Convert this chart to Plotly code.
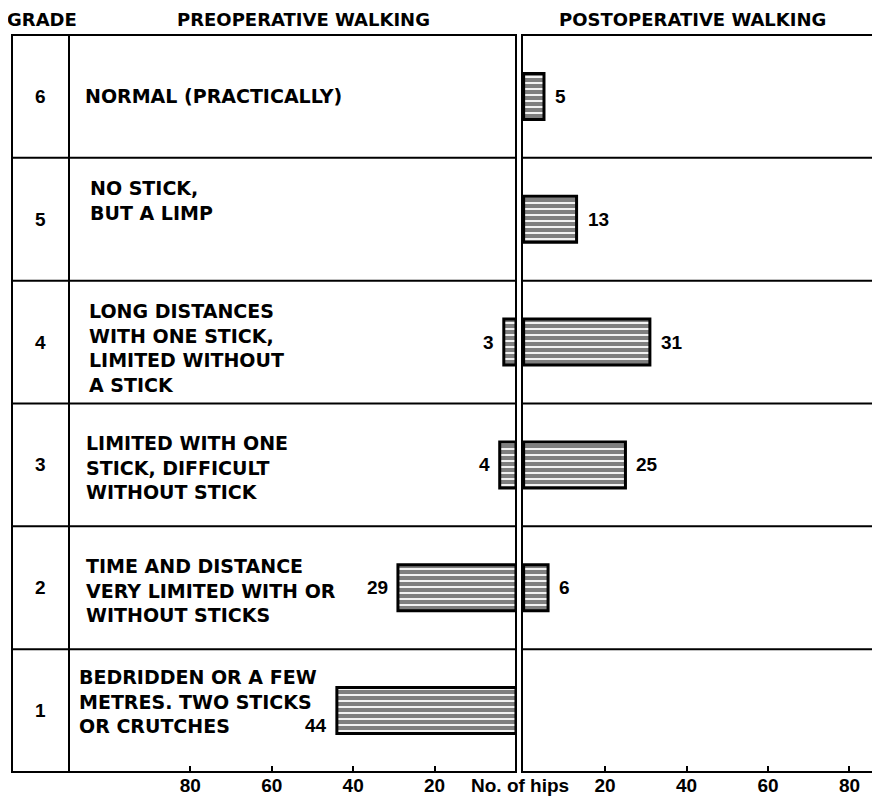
import plotly.graph_objects as go

# ---- data ----
grades = [1, 2, 3, 4, 5, 6]
preop_hips = [44, 29, 4, 3, None, None]
postop_hips = [None, 6, 25, 31, 13, 5]
descriptions = [
    "BEDRIDDEN OR A FEW<br>METRES. TWO STICKS<br>OR CRUTCHES",
    "TIME AND DISTANCE<br>VERY LIMITED WITH OR<br>WITHOUT STICKS",
    "LIMITED WITH ONE<br>STICK, DIFFICULT<br>WITHOUT STICK",
    "LONG DISTANCES<br>WITH ONE STICK,<br>LIMITED WITHOUT<br>A STICK",
    "NO STICK,<br>BUT A LIMP",
    "NORMAL (PRACTICALLY)",
]
tick_values = [20, 40, 60, 80]
header_grade = "GRADE"
header_pre = "PREOPERATIVE WALKING"
header_post = "POSTOPERATIVE WALKING"
axis_title = "No. of hips"

# ---- layout constants ----
OFF = 8  # page body margin
W, H = 880 - OFF, 803 - OFF
def px(x):
    return (x - OFF) / W
def py(y):
    return 1 - (y - OFF) / H

LBL_FONT = dict(family="DejaVu Sans", size=19, color="black", weight="bold")
HDR_FONT = dict(family="DejaVu Sans", size=18, color="black", weight="bold")
NUM_FONT = dict(family="Liberation Sans", size=19, color="black", weight="bold")
LINE = dict(color="black", width=2)

bar_style = dict(
    color="white",
    line=dict(color="black", width=3),
    pattern=dict(shape="-", fgcolor="black", bgcolor="white", size=6, solidity=0.7),
)

fig = go.Figure()
fig.add_trace(go.Bar(x=preop_hips, y=grades, orientation="h", xaxis="x", yaxis="y",
                     width=0.375, marker=bar_style, showlegend=False, hoverinfo="skip"))
fig.add_trace(go.Bar(x=postop_hips, y=grades, orientation="h", xaxis="x2", yaxis="y",
                     width=0.375, marker=bar_style, showlegend=False, hoverinfo="skip"))

shapes = []
# panel boxes
shapes.append(dict(type="rect", xref="x domain", yref="y domain", x0=0, x1=1, y0=0, y1=1, line=LINE))
shapes.append(dict(type="rect", xref="x2 domain", yref="y domain", x0=0, x1=0.998, y0=0, y1=1, line=LINE))
# grade column divider
shapes.append(dict(type="line", xref="paper", yref="y domain", x0=px(69), x1=px(69), y0=0, y1=1, line=LINE))
# row separators
for g in grades[:-1]:
    for xr in ("x domain", "x2 domain"):
        shapes.append(dict(type="line", xref=xr, yref="y", x0=0, x1=1, y0=g + 0.5, y1=g + 0.5, line=LINE))

annotations = []
text_dy = {1: 0.077, 2: -0.025, 3: -0.025, 4: -0.05, 5: 0.155, 6: 0.0}
text_x = {1: 77, 2: 84, 3: 84, 4: 87, 5: 88, 6: 83}
for g, d in zip(grades, descriptions):
    annotations.append(dict(xref="paper", yref="y", x=px(40), y=g, text=str(g), showarrow=False,
                            xanchor="center", yanchor="middle", font=NUM_FONT))
    annotations.append(dict(xref="paper", yref="y", x=px(text_x[g]), y=g + text_dy[g], text=d,
                            showarrow=False, xanchor="left", yanchor="middle", align="left",
                            font=LBL_FONT))
pre_max = max(v for v in preop_hips if v is not None)
for g, v in zip(grades, preop_hips):
    if v is not None:
        annotations.append(dict(xref="x", yref="y", x=v, y=g, text=str(v), showarrow=False,
                                xanchor="right", yanchor="middle", xshift=-8,
                                yshift=-15 if v == pre_max else 0, font=NUM_FONT))
for g, v in zip(grades, postop_hips):
    if v is not None:
        annotations.append(dict(xref="x2", yref="y", x=v, y=g, text=str(v), showarrow=False,
                                xanchor="left", yanchor="middle", xshift=9, font=NUM_FONT))
for txt, xc in ((header_grade, 42), (header_pre, 303), (header_post, 692)):
    annotations.append(dict(xref="paper", yref="paper", x=px(xc), y=1, text=txt,
                            showarrow=False, xanchor="center", yanchor="top", borderpad=0,
                            font=HDR_FONT))
annotations.append(dict(xref="paper", yref="paper", x=px(520), y=py(785), text=axis_title,
                        showarrow=False, xanchor="center", yanchor="middle", font=NUM_FONT))

axis_common = dict(tickvals=tick_values, ticks="inside", ticklen=6, tickwidth=2, tickcolor="black",
                   showgrid=False, zeroline=False, showline=False, tickfont=NUM_FONT,
                   anchor="y", fixedrange=True)

fig.update_layout(
    width=W, height=H,
    margin=dict(l=0, r=0, t=0, b=0),
    paper_bgcolor="white", plot_bgcolor="white",
    barmode="overlay",
    xaxis=dict(domain=[px(12), px(516)], range=[123.8, 0], **axis_common),
    xaxis2=dict(domain=[px(522), 1], range=[-0.4, 87.5], **axis_common),
    yaxis=dict(domain=[py(772), py(35)], range=[0.5, 6.5], visible=False, fixedrange=True),
    shapes=shapes,
    annotations=annotations,
)

fig.write_html("out.html")
